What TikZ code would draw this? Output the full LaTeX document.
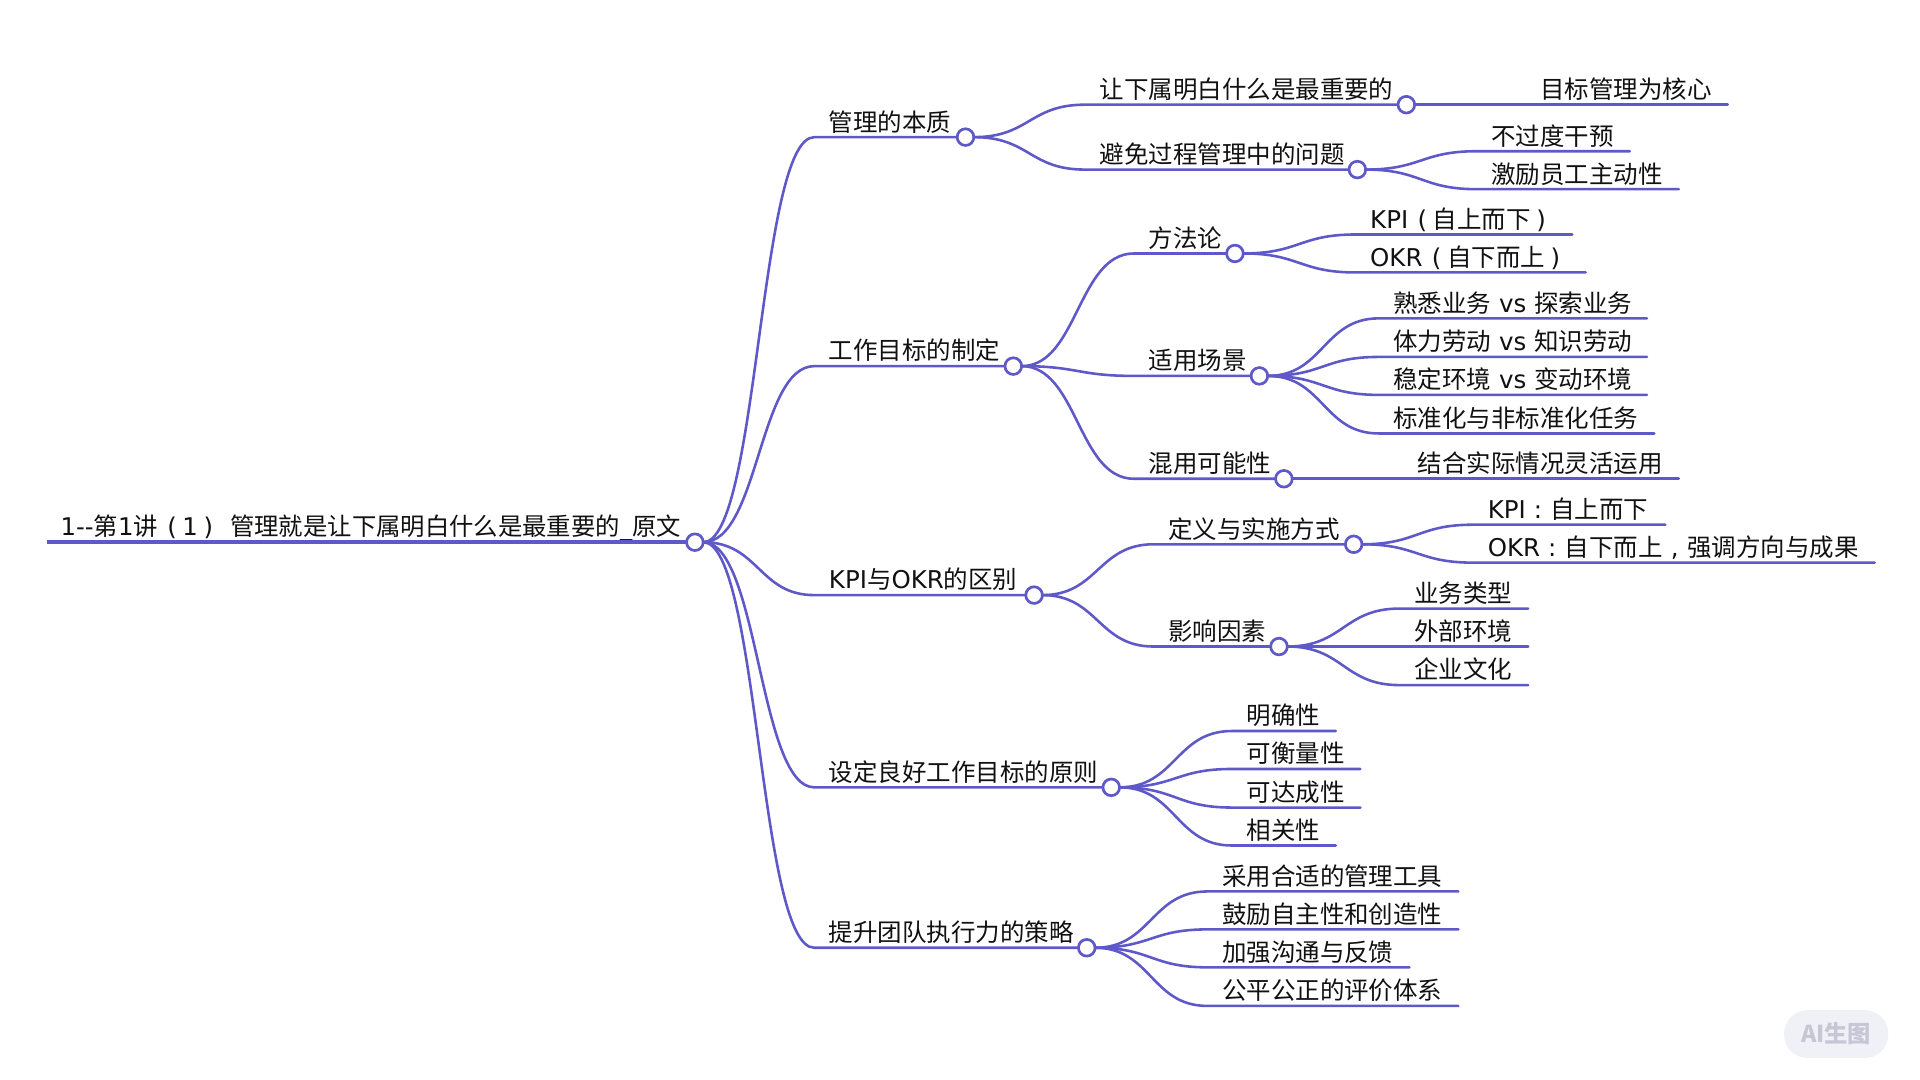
\documentclass[tikz,border=0pt]{standalone}
\usepackage{fontspec}
\setmainfont{Noto Sans CJK SC}
\newfontfamily\la{DejaVu Sans}
\usetikzlibrary{calc}
\definecolor{mmline}{HTML}{5F58C8}
\definecolor{mmtext}{HTML}{111111}
\definecolor{badgefill}{HTML}{F0F1F6}
\definecolor{badgetext}{HTML}{C5C7D5}
% full-width punctuation centred in its cell, as the reference prints it
\newcommand\fcolon{\makebox[20pt][c]{\la :}}
\newcommand\fcomma{\makebox[20pt][c]{\la ,}}
\newcommand\fopen{\makebox[20pt][c]{\hspace{3pt}\la (}}
\newcommand\fclose{\makebox[20pt][c]{\la )\hspace{3pt}}}
\tikzset{
  mmitem/.style={anchor=south west,inner sep=0pt,outer sep=0pt,text height=17pt,text depth=5pt,font=\fontsize{20}{24}\selectfont,text=mmtext},
  mmdot/.style={circle,draw=mmline,fill=white,line width=2.2pt,minimum size=13.6pt,inner sep=0pt,outer sep=0pt},
  mmlink/.style={draw=mmline,line width=2.1pt,line cap=round,line join=round},
  mmroot/.style={draw=mmline,line width=3pt},
  badge/.style={rounded corners=19pt,fill=badgefill,minimum width=85pt,minimum height=39pt,inner sep=0pt,text=badgetext,font=\fontsize{19}{22}\selectfont\bfseries}
}
% name, parent, x0, x1, y, text
\newcommand\mmleaf[6]{%
  \node[mmitem] (#1) at (#3,#5) {\makebox[\dimexpr#4pt-#3pt\relax][l]{\hspace{12pt}#6}};
  \draw[mmlink] (#2.east) .. controls ($(#2.east)!0.5!(#2.east -| #1.south west)$) and ($(#1.south west)!0.5!(#1.south west -| #2.east)$) .. (#1.south west) -- (#1.south east);
}
\newcommand\mmbranch[6]{%
  \mmleaf{#1}{#2}{#3}{#4}{#5}{#6}
  \node[mmdot] (#1d) at ($(#1.south east)+(7.5,0)$) {};
}
\begin{document}
\begin{tikzpicture}[x=1pt,y=-1pt]
\useasboundingbox (0,0) rectangle (1568,882);
\fill[white] (0,0) rectangle (1568,882);
% root
\node[mmitem,font=\fontsize{19.9}{24}\selectfont] (root) at (38,442.5) {\makebox[522pt][l]{\hspace{11.5pt}{\la 1--}第{\la 1}讲\fopen{\la 1}\fclose{\la\ }管理就是让下属明白什么是最重要的{\la\_}原文}};
\draw[mmroot] (root.south west) -- (root.south east);
\node[mmdot] (rootd) at (567.5,442.8) {};
% 1
\mmbranch{a}{rootd}{665}{781}{112}{管理的本质}
\mmbranch{aa}{ad}{886}{1141}{85.5}{让下属明白什么是最重要的}
\mmleaf{aaa}{aad}{1246}{1411}{85.5}{目标管理为核心}
\mmbranch{ab}{ad}{886}{1101}{138.5}{避免过程管理中的问题}
\mmleaf{aba}{abd}{1206}{1331}{123.5}{不过度干预}
\mmleaf{abb}{abd}{1206}{1371}{154.5}{激励员工主动性}
% 2
\mmbranch{b}{rootd}{665}{820}{299}{工作目标的制定}
\mmbranch{ba}{bd}{926}{1001}{207}{方法论}
\mmleaf{baa}{bad}{1107}{1284}{191.5}{{\la KPI}\fopen 自上而下\fclose}
\mmleaf{bab}{bad}{1107}{1295}{222.5}{{\la OKR}\fopen 自下而上\fclose}
\mmbranch{bb}{bd}{926}{1021}{307}{适用场景}
\mmleaf{bba}{bbd}{1126}{1345}{260}{熟悉业务{\la\ vs\ }探索业务}
\mmleaf{bbb}{bbd}{1126}{1345}{291.5}{体力劳动{\la\ vs\ }知识劳动}
\mmleaf{bbc}{bbd}{1126}{1345}{322.5}{稳定环境{\la\ vs\ }变动环境}
\mmleaf{bbe}{bbd}{1126}{1351}{354}{标准化与非标准化任务}
\mmbranch{bc}{bd}{926}{1041}{391}{混用可能性}
\mmleaf{bca}{bcd}{1146}{1371}{391}{结合实际情况灵活运用}
% 3
\mmbranch{c}{rootd}{665}{837}{486}{{\la KPI}与{\la OKR}的区别}
\mmbranch{ca}{cd}{942}{1098}{444.5}{定义与实施方式}
\mmleaf{caa}{cad}{1203}{1360}{428.5}{{\la KPI}\fcolon 自上而下}
\mmleaf{cab}{cad}{1203}{1531}{459.5}{{\la OKR}\fcolon 自下而上\fcomma 强调方向与成果}
\mmbranch{cb}{cd}{942}{1037}{528}{影响因素}
\mmleaf{cba}{cbd}{1143}{1248}{497}{业务类型}
\mmleaf{cbb}{cbd}{1143}{1248}{528}{外部环境}
\mmleaf{cbc}{cbd}{1143}{1248}{559.5}{企业文化}
% 4
\mmbranch{e}{rootd}{665}{900}{643}{设定良好工作目标的原则}
\mmleaf{ea}{ed}{1006}{1091}{597}{明确性}
\mmleaf{eb}{ed}{1006}{1111}{628}{可衡量性}
\mmleaf{ec}{ed}{1006}{1111}{659.5}{可达成性}
\mmleaf{ef}{ed}{1006}{1091}{690.5}{相关性}
% 5
\mmbranch{f}{rootd}{665}{880}{774}{提升团队执行力的策略}
\mmleaf{fa}{fd}{986}{1191}{728}{采用合适的管理工具}
\mmleaf{fb}{fd}{986}{1191}{759}{鼓励自主性和创造性}
\mmleaf{fc}{fd}{986}{1151}{790}{加强沟通与反馈}
\mmleaf{fe}{fd}{986}{1191}{821.5}{公平公正的评价体系}
% badge
\node[badge] (wm) at (1499.5,844.5) {AI生图};
\end{tikzpicture}
\end{document}
